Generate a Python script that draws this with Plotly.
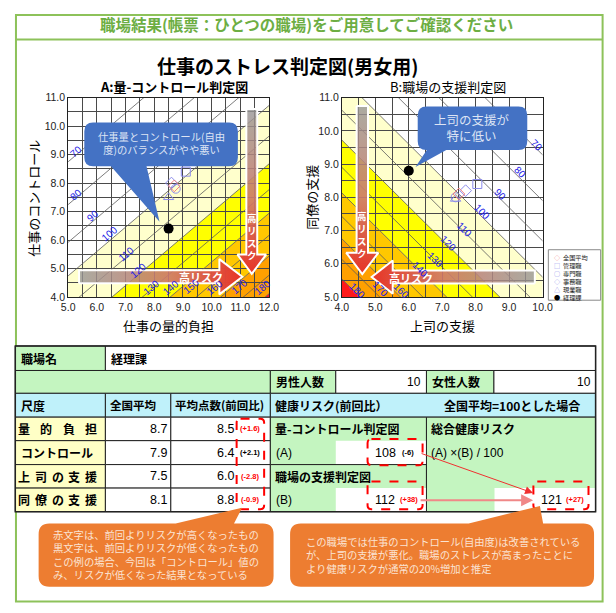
import plotly.graph_objects as go

W, H = 616, 613
OFF = 8                      # the page body adds an 8px margin; draw in page pixels
FW, FH = W - OFF, H - OFF
JP = "Noto Sans CJK JP"
NUM = "Liberation Sans, Noto Sans CJK JP"

# ---- data ----
job_names = ["管理職", "専門職", "事務職", "現業職"]
legend_names = ["全国平均", "管理職", "専門職", "事務職", "現業職", "経理課"]

scale_names = ["量 的 負 担", "コントロール", "上 司 の 支 援", "同 僚 の 支 援"]
national_mean = [8.7, 7.9, 7.5, 8.1]
dept_mean = [8.5, 6.4, 6.0, 8.8]
dept_change = [1.6, 2.1, -2.8, -0.9]
change_worse = [True, False, True, True]

# job types (管理職, 専門職, 事務職, 現業職)
job_burden = [9.1, 8.75, 8.6, 8.5]
job_control = [8.4, 7.8, 8.0, 7.5]
job_boss = [8.05, 7.4, 7.7, 7.4]
job_coworker = [8.4, 8.0, 8.2, 7.95]

risk_levels = [70, 80, 90, 100, 110, 120, 130, 140, 150, 160, 170, 180]
# chart A: x where each iso-risk line meets y = 4.0
a_iso_x_at_4 = [-0.56, 1.20, 2.75, 4.13, 5.39, 6.53, 7.59, 8.56, 9.47, 10.32, 11.11, 11.87]
# chart B: iso-risk lines are 上司 + 同僚 = sum
b_iso_sum = [19.28, 17.90, 16.69, 15.60, 14.62, 13.72, 12.90, 12.13, 11.42, 10.75, 10.13, 9.54]
band_levels = [100, 120, 140, 160, 180]

workplace = "経理課"
male_n, female_n = 10, 10
risk_a, risk_a_diff = 108, -6
risk_b, risk_b_diff = 112, 38
risk_total, risk_total_diff = 121, 27

note_left = ["赤文字は、前回よりリスクが高くなったもの",
             "黒文字は、前回よりリスクが低くなったもの",
             "この例の場合、今回は「コントロール」値の",
             "み、リスクが低くなった結果となっている"]
note_right = ["この職場では仕事のコントロール(自由度)は改善されている",
              "が、上司の支援が悪化。職場のストレスが高まったことに",
              "より健康リスクが通常の20%増加と推定"]

# ---- styles ----
A_SLOPE = 0.854
band_colors = ["#FFFFCC", "#FFFF00", "#FFC800", "#FFA000", "#FF1A1A"]
job_symbols = ["square-open", "circle-open", "diamond-open", "triangle-up-open"]
legend_glyphs = ["◇", "□", "○", "◇", "△", "●"]
BLUE_PT = "#8C8CEB"
RED_PT = "#F08080"
GREEN_HDR = "#6DAE43"
ORANGE = "#ED7D31"
CALLOUT_BLUE = "#4472C4"
RED = "#FF0000"

shapes = []
annotations = []


def fx(x):
    return (x - OFF) / FW


def fy(y):
    return 1 - (y - OFF) / FH


def P(x, y):
    return f"{fx(x):.5f},{fy(y):.5f}"


def rounded_path(x0, y0, x1, y1, r, top_ptr=None, bottom_ptr=None):
    s = f"M{P(x0 + r, y0)}"
    if top_ptr:
        bx0, bx1, tx, ty = top_ptr
        s += f" L{P(bx0, y0)} L{P(tx, ty)} L{P(bx1, y0)}"
    s += f" L{P(x1 - r, y0)} Q{P(x1, y0)} {P(x1, y0 + r)}"
    s += f" L{P(x1, y1 - r)} Q{P(x1, y1)} {P(x1 - r, y1)}"
    if bottom_ptr:
        bx0, bx1, tx, ty = bottom_ptr
        s += f" L{P(bx1, y1)} L{P(tx, ty)} L{P(bx0, y1)}"
    s += f" L{P(x0 + r, y1)} Q{P(x0, y1)} {P(x0, y1 - r)}"
    s += f" L{P(x0, y0 + r)} Q{P(x0, y0)} {P(x0 + r, y0)} Z"
    return s


def rect(x0, y0, x1, y1, fill, line="#222", width=1):
    shapes.append(dict(type="rect", xref="paper", yref="paper",
                       x0=fx(x0), x1=fx(x1), y0=fy(y1), y1=fy(y0),
                       fillcolor=fill, line=dict(color=line, width=width)))


def text(x, y, s, size=12, color="#000", bold=False, anchor="left",
         family=JP, angle=0, yanchor="middle", align=None):
    annotations.append(dict(x=fx(x), y=fy(y), xref="paper", yref="paper",
                            text=f"<b>{s}</b>" if bold else s, showarrow=False,
                            xanchor=anchor, yanchor=yanchor, textangle=angle,
                            align=align or ("center" if anchor == "center" else anchor),
                            font=dict(size=size, color=color, family=family)))


def path_shape(d, fill, line_color=None, width=0, dash=None, xref="paper", yref="paper", layer="above"):
    shapes.append(dict(type="path", path=d, xref=xref, yref=yref, layer=layer,
                       fillcolor=fill,
                       line=dict(color=line_color or "rgba(0,0,0,0)", width=width, dash=dash)))


def poly(pts):
    return "M" + " L".join(f"{x},{y}" for x, y in pts) + " Z"


fig = go.Figure()

# ---------- chart A bands / iso lines ----------
for i, lv in enumerate(band_levels):
    xa = a_iso_x_at_4[risk_levels.index(lv)]
    pa = [(xa - 10, 4 - 10 * A_SLOPE), (xa + 30, 4 + 30 * A_SLOPE)]
    if i + 1 < len(band_levels):
        xb = a_iso_x_at_4[risk_levels.index(band_levels[i + 1])]
        pts = pa + [(xb + 30, 4 + 30 * A_SLOPE), (xb - 10, 4 - 10 * A_SLOPE)]
    else:
        pts = pa + [(xa + 30, 4 - 10 * A_SLOPE)]
    path_shape(poly(pts), band_colors[i], xref="x", yref="y", layer="below")

iso_ax, iso_ay = [], []
for x0 in a_iso_x_at_4:
    iso_ax += [x0 - 10, x0 + 30, None]
    iso_ay += [4 - 10 * A_SLOPE, 4 + 30 * A_SLOPE, None]
fig.add_trace(go.Scatter(x=iso_ax, y=iso_ay, mode="lines", xaxis="x", yaxis="y",
                         line=dict(color="#5a5a5a", width=0.8), hoverinfo="skip"))

# ---------- chart B bands / iso lines ----------
for i, lv in enumerate(band_levels):
    sa = b_iso_sum[risk_levels.index(lv)]
    pa = [(-5, sa + 5), (20, sa - 20)]
    if i + 1 < len(band_levels):
        sb = b_iso_sum[risk_levels.index(band_levels[i + 1])]
        pts = pa + [(20, sb - 20), (-5, sb + 5)]
    else:
        pts = pa + [(-5, sa - 20)]
    path_shape(poly(pts), band_colors[i], xref="x2", yref="y2", layer="below")

iso_bx, iso_by = [], []
for s in b_iso_sum:
    iso_bx += [-5, 20, None]
    iso_by += [s + 5, s - 20, None]
fig.add_trace(go.Scatter(x=iso_bx, y=iso_by, mode="lines", xaxis="x2", yaxis="y2",
                         line=dict(color="#5a5a5a", width=0.8), hoverinfo="skip"))

# iso-line labels (label anchor positions along each chart)
a_label_pos = [(5.27, 9.12), (5.27, 7.6), (5.87, 6.85), (6.45, 6.22), (7.0, 5.5), (7.45, 4.92),
               (7.9, 4.32), (8.58, 4.34), (9.29, 4.36), (10.1, 4.34), (10.98, 4.36), (11.77, 4.34)]
for lv, (lx, ly) in zip(risk_levels, a_label_pos):
    annotations.append(dict(x=lx, y=ly, xref="x", yref="y", text=str(lv), showarrow=False,
                            textangle=-40, font=dict(size=10, color="#1a1ae6", family=NUM)))
b_label_pos = {70: (9.84, 9.57), 80: (9.34, 8.74), 90: (8.73, 8.07), 100: (8.19, 7.58),
               110: (7.66, 7.02), 120: (7.19, 6.62), 130: (6.79, 6.13), 140: (6.35, 5.84),
               160: (5.77, 5.2), 170: (5.14, 5.25), 180: (4.46, 5.2)}
for lv in risk_levels:
    if lv in b_label_pos:
        lx, ly = b_label_pos[lv]
        annotations.append(dict(x=lx, y=ly, xref="x2", yref="y2", text=str(lv), showarrow=False,
                                textangle=45, font=dict(size=10, color="#1a1ae6", family=NUM)))


# ---------- 高リスク arrows ----------
def h_arrow(xa, ya, x_tail, x_head0, x_tip, yc, bh, hh, point_right):
    pts = [(x_tail, yc - bh), (x_head0, yc - bh), (x_head0, yc - hh), (x_tip, yc),
           (x_head0, yc + hh), (x_head0, yc + bh), (x_tail, yc + bh), (x_tail, yc - bh)]
    gray, red = "rgba(150,150,150,0.8)", "rgba(232,52,38,1)"
    cs = [[0, gray], [0.55, "rgba(205,120,110,0.9)"], [1, red]] if point_right else \
         [[0, red], [0.45, "rgba(205,120,110,0.9)"], [1, gray]]
    fig.add_trace(go.Scatter(x=[p[0] for p in pts], y=[p[1] for p in pts], mode="lines",
                             xaxis=xa, yaxis=ya, fill="toself",
                             fillgradient=dict(type="horizontal", colorscale=cs),
                             line=dict(color="white", width=2), hoverinfo="skip"))


def v_arrow(xa, ya, y_tail, y_head0, y_tip, xc, bw, hw):
    pts = [(xc - bw, y_tail), (xc - bw, y_head0), (xc - hw, y_head0), (xc, y_tip),
           (xc + hw, y_head0), (xc + bw, y_head0), (xc + bw, y_tail), (xc - bw, y_tail)]
    cs = [[0, "rgba(232,52,38,1)"], [0.45, "rgba(205,120,110,0.9)"], [1, "rgba(150,150,150,0.8)"]]
    fig.add_trace(go.Scatter(x=[p[0] for p in pts], y=[p[1] for p in pts], mode="lines",
                             xaxis=xa, yaxis=ya, fill="toself",
                             fillgradient=dict(type="vertical", colorscale=cs),
                             line=dict(color="white", width=2), hoverinfo="skip"))


h_arrow("x", "y", 5.38, 10.27, 11.07, 4.71, 0.23, 0.62, True)
v_arrow("x", "y", 10.6, 5.49, 4.81, 11.40, 0.19, 0.5)
v_arrow("x2", "y2", 10.75, 6.33, 5.69, 4.61, 0.17, 0.48)
h_arrow("x2", "y2", 9.77, 5.52, 4.89, 5.6, 0.195, 0.5, False)

for xr, yr, lx, ly in [("x", "y", 9.62, 4.71), ("x2", "y2", 6.08, 5.58)]:
    annotations.append(dict(x=lx, y=ly, xref=xr, yref=yr, text="<b>高リスク</b>", showarrow=False,
                            font=dict(size=11, color="white", family=JP)))
for xr, yr, lx, ly in [("x", "y", 11.40, 6.12), ("x2", "y2", 4.61, 6.87)]:
    annotations.append(dict(x=lx, y=ly, xref=xr, yref=yr, text="<b>高<br>リ<br>ス<br>ク</b>",
                            showarrow=False, font=dict(size=9.5, color="white", family=JP)))

# ---------- points ----------
for xs, ys, xa, ya in [(job_burden, job_control, "x", "y"), (job_boss, job_coworker, "x2", "y2")]:
    fig.add_trace(go.Scatter(x=xs, y=ys, mode="markers", xaxis=xa, yaxis=ya, text=job_names,
                             marker=dict(symbol=job_symbols, size=9, color=BLUE_PT,
                                         line=dict(width=1, color=BLUE_PT))))
fig.add_trace(go.Scatter(x=[national_mean[0]], y=[national_mean[1]], mode="markers",
                         marker=dict(symbol="diamond-open", size=9, color=RED_PT)))
fig.add_trace(go.Scatter(x=[national_mean[2]], y=[national_mean[3]], mode="markers",
                         xaxis="x2", yaxis="y2",
                         marker=dict(symbol="diamond-open", size=9, color=RED_PT)))
fig.add_trace(go.Scatter(x=[dept_mean[0]], y=[dept_mean[1]], mode="markers",
                         marker=dict(symbol="circle", size=10, color="black")))
fig.add_trace(go.Scatter(x=[dept_mean[2]], y=[dept_mean[3]], mode="markers",
                         xaxis="x2", yaxis="y2",
                         marker=dict(symbol="circle", size=10, color="black")))

# ---------- frame / header ----------
rect(9, 9, 612.5, 607.5, "rgba(0,0,0,0)", line="#8DC25A", width=2)
shapes.append(dict(type="line", xref="paper", yref="paper", x0=fx(9), x1=fx(612.5),
                   y0=fy(34), y1=fy(34), line=dict(color="#8DC25A", width=2)))
text(308, 18, "職場結果(帳票：ひとつの職場)をご用意してご確認ください", 15.5, GREEN_HDR, True, "center")
text(288, 61, "仕事のストレス判定図(男女用)", 19, "#000", True, "center")
text(172, 82, "A:量-コントロール判定図", 13, "#000", True, "center")
text(453, 82, "B:職場の支援判定図", 13, "#000", False, "center")
text(166, 326, "仕事の量的負担", 13, "#000", False, "center")
text(27, 196, "仕事のコントロール", 13, "#000", False, "center", angle=-90)
text(448, 326, "上司の支援", 13, "#000", False, "center")
text(313, 195, "同僚の支援", 13, "#000", False, "center", angle=-90)

# blue callouts
path_shape(rounded_path(79.3, 118.7, 237.3, 163.3, 9, bottom_ptr=(106.7, 143.3, 156.7, 220)), CALLOUT_BLUE)
text(158.3, 140, "仕事量とコントロール(自由<br>度)のバランスがやや悪い", 10.3, "#DDE4F4", False, "center")
path_shape(rounded_path(422.3, 102.3, 535, 146.7, 9, bottom_ptr=(431.7, 451.7, 420, 164)), CALLOUT_BLUE)
text(478.5, 124, "上司の支援が<br>特に低い", 12.5, "#DDE4F4", False, "center")

# legend box of chart B
rect(556.7, 248.5, 610.5, 300, "white", line="#8a8a8a", width=1)
leg_lines = []
for k, (g, name) in enumerate(zip(legend_glyphs, legend_names)):
    c = RED_PT if k == 0 else ("#000" if k == 5 else BLUE_PT)
    leg_lines.append(f"<span style='color:{c}'>{g}</span>  {name}")
text(560, 250, "<br>".join(leg_lines), 6.2, "#222", False, "left", yanchor="top")

# ---------- table ----------
GREEN = "#C4F5C0"
CYAN = "#BFF1FA"
YEL = "#FFFFC6"
TY = [346.7, 371.7, 395, 419.3, 443.3, 467.7, 491.7, 515.7]
rc = [(TY[i] + TY[i + 1]) / 2 for i in range(7)]

rect(8.3, TY[0], 101, TY[1], GREEN)
rect(101, TY[0], 605.3, TY[1], "white")
text(12, rc[0], "職場名", 12, "#000", True)
text(105, rc[0], workplace, 12, "#000", True)

rect(8.3, TY[1], 270.7, TY[2], GREEN)
rect(270.7, TY[1], 338, TY[2], GREEN)
rect(338, TY[1], 431.3, TY[2], "white")
rect(431.3, TY[1], 500.7, TY[2], GREEN)
rect(500.7, TY[1], 605.3, TY[2], "white")
text(274, rc[1], "男性人数", 12, "#000", True)
text(428, rc[1], str(male_n), 12, "#000", False, "right", NUM)
text(435, rc[1], "女性人数", 12, "#000", True)
text(603, rc[1], str(female_n), 12, "#000", False, "right", NUM)

rect(8.3, TY[2], 101, TY[3], CYAN)
rect(101, TY[2], 168.3, TY[3], CYAN)
rect(168.3, TY[2], 270.7, TY[3], CYAN)
rect(270.7, TY[2], 605.3, TY[3], CYAN)
text(12, rc[2], "尺度", 12, "#000", True)
text(104, rc[2], "全国平均", 11.5, "#000", True)
text(171, rc[2], "平均点数(前回比)", 11.5, "#000", True)
text(273, rc[2], "健康リスク(前回比）", 12, "#000", True)
text(519, rc[2], "全国平均=100とした場合", 12, "#000", True, "center")

for i in range(4):
    y0, y1 = TY[3 + i], TY[4 + i]
    rect(8.3, y0, 101, y1, YEL)
    rect(101, y0, 168.3, y1, "white")
    rect(168.3, y0, 270.7, y1, "white")
    parts = scale_names[i].split(" ")
    if len(parts) > 1:
        for k, ch in enumerate(parts):
            text(17.3 + k * (86.5 - 17.3) / (len(parts) - 1), rc[3 + i], ch, 12, "#000", True, "center")
    else:
        text(12, rc[3 + i], scale_names[i], 12, "#000", True)
    text(166, rc[3 + i], f"{national_mean[i]:.1f}", 12.5, "#000", False, "right", NUM)
    text(235.5, rc[3 + i], f"{dept_mean[i]:.1f}", 12.5, "#000", False, "right", NUM)
    text(250, rc[3 + i], f"<b>({dept_change[i]:+.1f})</b>", 7.5,
         RED if change_worse[i] else "#000", False, "center", NUM)

rect(270.7, TY[3], 431.3, TY[5], GREEN)
rect(338, TY[4], 431.3, TY[5], "white", line="rgba(0,0,0,0)", width=0)
rect(270.7, TY[5], 431.3, TY[7], GREEN)
rect(338, TY[6], 431.3, TY[7], "white", line="rgba(0,0,0,0)", width=0)
rect(431.3, TY[3], 605.3, TY[7], GREEN)
rect(501.3, TY[6], 604.8, TY[7], "white", line="rgba(0,0,0,0)", width=0)
rect(8.3, TY[0], 605.3, TY[7], "rgba(0,0,0,0)", line="#222", width=1.5)

text(273, rc[3], "量-コントロール判定図", 12, "#000", True)
text(274, rc[4], "(A)", 12, "#000", False, "left", NUM)
text(376, rc[4], str(risk_a), 12.5, "#000", False, "left", NUM)
text(404, rc[4], f"<b>({risk_a_diff:+d})</b>", 7.5, "#000", False, "left", NUM)
text(273, rc[5], "職場の支援判定図", 12, "#000", True)
text(274, rc[6], "(B)", 12, "#000", False, "left", NUM)
text(376, rc[6], str(risk_b), 12.5, "#000", False, "left", NUM)
text(402, rc[6], f"<b>({risk_b_diff:+d})</b>", 7.5, RED, False, "left", NUM)
text(434, rc[3], "総合健康リスク", 12, "#000", True)
text(434, rc[4], "(A) ×(B) / 100", 12, "#000", False, "left", NUM)
text(547, rc[6], str(risk_total), 12.5, "#000", False, "left", NUM)
text(573, rc[6], f"<b>({risk_total_diff:+d})</b>", 7.5, RED, False, "left", NUM)

# red dashed boxes
for bx0, by0, bx1, by1 in [(236, 421, 264.3, 513.3), (370.7, 441.7, 427.3, 468.3),
                           (370.7, 485, 427.3, 513.3), (541.3, 485, 598, 513.3)]:
    path_shape(rounded_path(bx0, by0, bx1, by1, 4), "rgba(0,0,0,0)", RED, 2, "dash")

# arrows into total risk
annotations.append(dict(x=fx(541), y=fy(496.7), xref="paper", yref="paper", text="",
                        showarrow=True, ax=-113, ay=-40, arrowcolor="#F03030", arrowwidth=1,
                        arrowhead=2, arrowsize=1.6))
annotations.append(dict(x=fx(541), y=fy(504), xref="paper", yref="paper", text="",
                        showarrow=True, ax=-114, ay=0, arrowcolor="#F08888", arrowwidth=2,
                        arrowhead=2, arrowsize=1.2))

# ---------- orange callouts ----------
path_shape(rounded_path(32.3, 527.7, 274, 592.3, 11, top_ptr=(173.3, 233.3, 241.7, 511.7)), ORANGE)
text(45, 559.5, "<br>".join(note_left), 10.3, "#FBE3D3")
path_shape(rounded_path(291, 527.7, 603.7, 592.3, 11, top_ptr=(474.7, 551.3, 548, 510)), ORANGE)
text(305, 559.5, "<br>".join(note_right), 10.3, "#FBE3D3")


# ---------- layout ----------
def axis(dom, rng, **kw):
    d = dict(domain=dom, range=rng, dtick=1, tick0=0, tickformat=".1f", showgrid=True,
             gridcolor="#4a4a4a", gridwidth=1,
             minor=dict(dtick=0.5, showgrid=True, gridcolor="#4a4a4a", gridwidth=1),
             showline=True, linecolor="#222", linewidth=1, mirror=True, zeroline=False,
             ticks="", tickfont=dict(size=10.5, color="#222", family=NUM), fixedrange=True)
    d.update(kw)
    return d


ydom = [fy(296.7), fy(93.3)]
fig.update_layout(
    width=FW, height=FH, margin=dict(l=0, r=0, t=0, b=0),
    paper_bgcolor="white", plot_bgcolor="white", showlegend=False,
    xaxis=axis([fx(62.7), fx(269.3)], [5, 12], anchor="y"),
    yaxis=axis(ydom, [4, 11], anchor="x"),
    xaxis2=axis([fx(344.3), fx(550.7)], [4, 10], anchor="y2"),
    yaxis2=axis(ydom, [5, 11], anchor="x2"),
    shapes=shapes, annotations=annotations,
    font=dict(family=JP),
)

fig.write_html("out.html")
